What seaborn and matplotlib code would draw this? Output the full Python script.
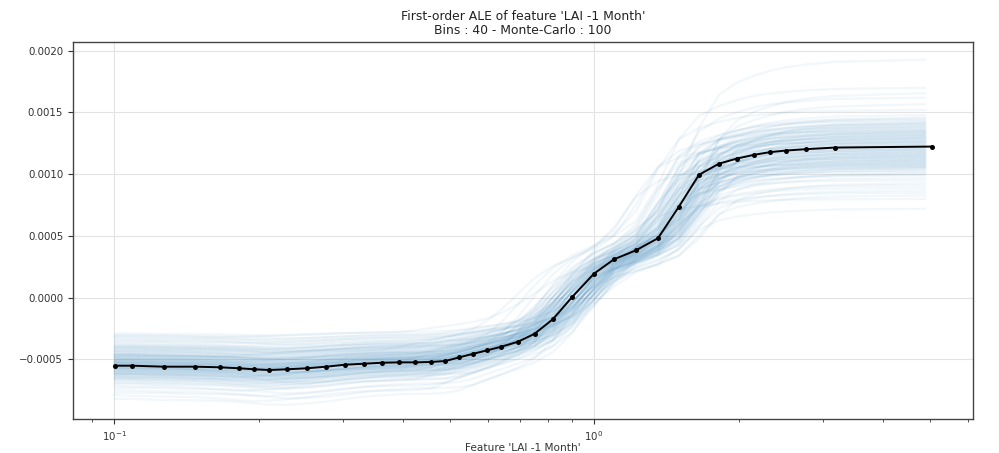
import numpy as np
import pandas as pd
import matplotlib
matplotlib.use("Agg")
import matplotlib.pyplot as plt
import seaborn as sns

# ---- data ----
ale_x = [0.1003, 0.1090, 0.1269, 0.1473, 0.1661, 0.1822, 0.1957, 0.2103, 0.2293, 0.2520,
         0.2770, 0.3029, 0.3318, 0.3617, 0.3925, 0.4245, 0.4575, 0.4903, 0.5243, 0.5606,
         0.5996, 0.6412, 0.6945, 0.7522, 0.8214, 0.9016, 1.0000, 1.1007, 1.2232, 1.3594,
         1.5029, 1.6543, 1.8218, 1.9867, 2.1540, 2.3260, 2.5120, 2.7650, 3.1780, 5.0700]
ale_y = [-0.000551, -0.000551, -0.000559, -0.000559, -0.000564, -0.000572, -0.000580, -0.000586,
         -0.000580, -0.000572, -0.000559, -0.000543, -0.000535, -0.000527, -0.000524, -0.000524,
         -0.000521, -0.000513, -0.000483, -0.000454, -0.000426, -0.000397, -0.000357, -0.000292,
         -0.000173, 0.000008, 0.000195, 0.000311, 0.000384, 0.000482, 0.000738, 0.000995,
         0.001086, 0.001127, 0.001157, 0.001179, 0.001192, 0.001203, 0.001216, 0.001224]

# Monte-Carlo curves: right-end level (x1e-3) and horizontal offset (log10) of each run
mc_end = [1.93, 1.70, 1.66, 1.62, 1.57, 1.52, 1.48, 1.46, 1.45, 1.44,
          1.43, 1.42, 1.42, 1.41, 1.40, 1.40, 1.39, 1.38, 1.38, 1.37,
          1.36, 1.36, 1.35, 1.35, 1.34, 1.34, 1.33, 1.33, 1.32, 1.32,
          1.31, 1.31, 1.30, 1.30, 1.29, 1.29, 1.28, 1.28, 1.27, 1.27,
          1.26, 1.26, 1.25, 1.25, 1.24, 1.24, 1.23, 1.23, 1.22, 1.22,
          1.21, 1.21, 1.20, 1.20, 1.19, 1.19, 1.18, 1.18, 1.17, 1.17,
          1.16, 1.16, 1.15, 1.15, 1.14, 1.14, 1.13, 1.13, 1.12, 1.12,
          1.11, 1.11, 1.10, 1.10, 1.09, 1.09, 1.08, 1.08, 1.07, 1.07,
          1.06, 1.06, 1.05, 1.05, 1.04, 1.03, 1.02, 1.01, 1.00, 0.99,
          0.97, 0.95, 0.93, 0.91, 0.89, 0.87, 0.85, 0.83, 0.80, 0.72]
mc_start = [-0.82, -0.79, -0.77, -0.75, -0.73, -0.71, -0.70, -0.69, -0.68, -0.67,
            -0.66, -0.66, -0.65, -0.65, -0.64, -0.64, -0.63, -0.63, -0.62, -0.62,
            -0.62, -0.61, -0.61, -0.61, -0.60, -0.60, -0.60, -0.59, -0.59, -0.59,
            -0.58, -0.58, -0.58, -0.57, -0.57, -0.57, -0.57, -0.56, -0.56, -0.56,
            -0.56, -0.55, -0.55, -0.55, -0.55, -0.54, -0.54, -0.54, -0.54, -0.53,
            -0.53, -0.53, -0.53, -0.52, -0.52, -0.52, -0.52, -0.51, -0.51, -0.51,
            -0.51, -0.50, -0.50, -0.50, -0.49, -0.49, -0.49, -0.48, -0.48, -0.48,
            -0.47, -0.47, -0.47, -0.46, -0.46, -0.46, -0.45, -0.45, -0.44, -0.44,
            -0.43, -0.43, -0.42, -0.42, -0.41, -0.41, -0.40, -0.40, -0.39, -0.39,
            -0.38, -0.37, -0.36, -0.35, -0.34, -0.33, -0.32, -0.31, -0.30, -0.29]
mc_shift = [0.02, -0.03, 0.05, -0.01, 0.04, -0.06, 0.01, 0.03, -0.02, 0.00,
            -0.04, 0.02, 0.06, -0.01, -0.03, 0.04, 0.01, -0.05, 0.03, 0.00,
            0.02, -0.02, -0.08, 0.05, 0.01, -0.03, 0.03, -0.01, 0.04, -0.04,
            0.00, 0.02, -0.02, 0.06, -0.06, 0.01, 0.03, -0.01, -0.03, 0.05,
            -0.10, 0.02, 0.00, -0.02, 0.04, 0.01, -0.04, 0.03, -0.01, 0.02,
            0.05, -0.03, 0.00, 0.01, -0.05, 0.03, -0.02, 0.04, 0.02, -0.01,
            -0.03, 0.06, 0.01, -0.02, 0.00, 0.03, -0.06, 0.02, -0.04, 0.05,
            0.01, -0.01, 0.04, -0.03, 0.02, 0.00, -0.12, 0.03, -0.02, 0.01,
            0.04, -0.05, 0.02, -0.01, 0.03, 0.00, -0.03, 0.05, 0.01, -0.02,
            0.02, -0.04, 0.06, 0.00, -0.01, 0.03, -0.02, 0.04, -0.09, 0.01]
mc_x_end = 4.9

title = "First-order ALE of feature 'LAI -1 Month'\nBins : 40 - Monte-Carlo : 100"
xlabel = "Feature 'LAI -1 Month'"

# ---- build Monte-Carlo long table ----
xm = np.array(ale_x)
ym = np.array(ale_y)
lx = np.log10(xm)
mc_x = xm.copy()
mc_x[-1] = mc_x_end
rows = []
for i, (e, b, d) in enumerate(zip(mc_end, mc_start, mc_shift)):
    base = np.interp(np.log10(mc_x) - d, lx, ym)
    # positive part scaled to this run's right level, negative part to its left level
    yy = np.where(base >= 0, base * (e * 1e-3 / ym[-1]), base * (b * 1e-3 / ym[0]))
    for xv, yv in zip(mc_x, yy):
        rows.append((i, xv, yv))
mc = pd.DataFrame(rows, columns=["run", "x", "y"])
main = pd.DataFrame({"x": xm, "y": ym})

# ---- plot ----
sns.set_style("white")
plt.rcParams["font.family"] = ["DejaVu Sans"]
fig, ax = plt.subplots(figsize=(9.99, 4.53), dpi=100)
fig.subplots_adjust(left=0.073, right=0.974, top=0.907, bottom=0.075)

sns.lineplot(data=mc, x="x", y="y", units="run", estimator=None, color="#1f77b4",
             alpha=0.06, linewidth=1.6, ax=ax, legend=False)
sns.lineplot(data=main, x="x", y="y", color="black", linewidth=1.4, marker="o",
             markersize=3.6, markeredgewidth=0, ax=ax, legend=False)

ax.set_xscale("log")
ax.set_xlim(0.0821, 6.16)
ax.set_ylim(-0.000983, 0.00207)
ax.set_yticks([-0.0005, 0.0, 0.0005, 0.0010, 0.0015, 0.0020])
ax.set_yticklabels(["\u22120.0005", "0.0000", "0.0005", "0.0010", "0.0015", "0.0020"])
ax.grid(True, which="major", color="#e3e3e3", linewidth=0.8)
ax.set_axisbelow(True)
ax.tick_params(axis="both", which="major", labelsize=7.4, colors="#333333",
               direction="out", length=3.5, width=0.8, bottom=True, left=True)
ax.tick_params(axis="x", which="minor", direction="out", length=2, width=0.6,
               colors="#333333", bottom=True)
for sp in ax.spines.values():
    sp.set_color("#444444")
    sp.set_linewidth(1.0)
ax.set_xlabel(xlabel, fontsize=7.6, color="#333333", labelpad=0.3)
ax.set_ylabel("")
ax.set_title(title, fontsize=8.9, color="#222222", pad=5.5, linespacing=1.15)

fig.savefig("out.png", dpi=100)
